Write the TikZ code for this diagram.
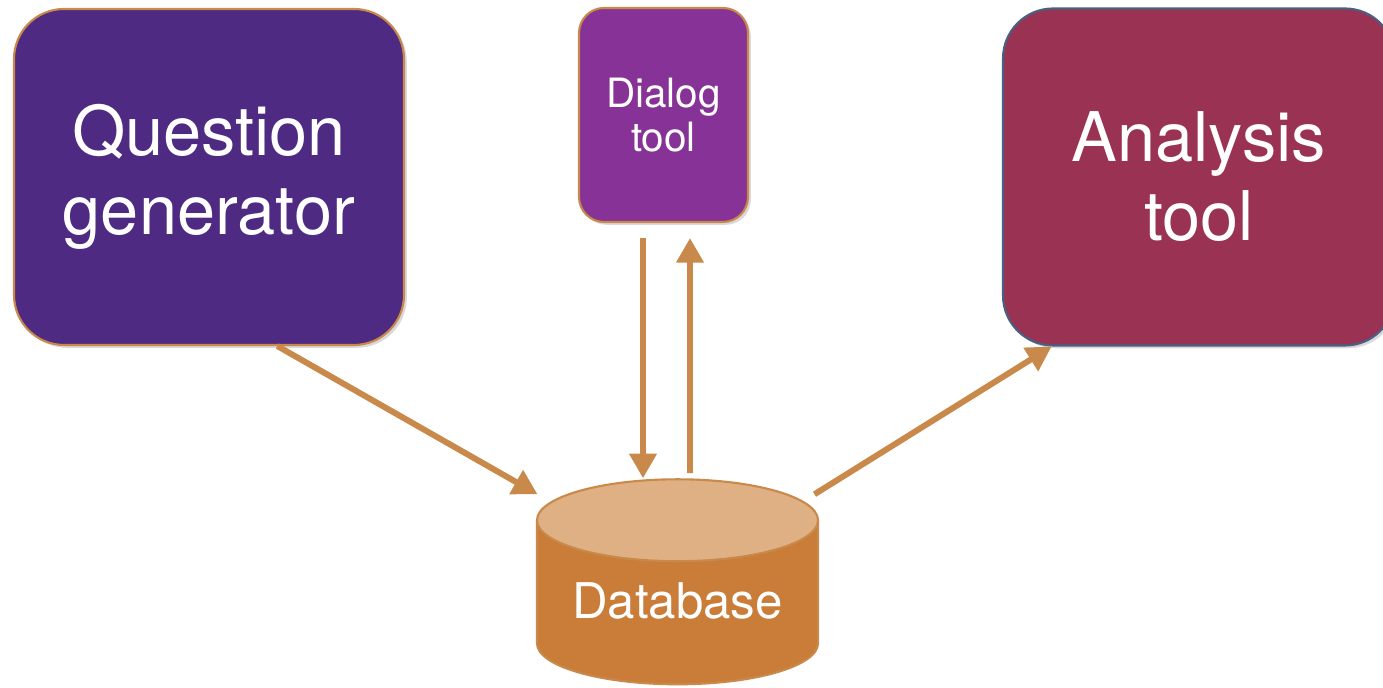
\documentclass[tikz,border=0pt]{standalone}
\usepackage{fontspec}
\setsansfont{TeX Gyre Heros}
\usetikzlibrary{shapes.geometric,arrows.meta,positioning,shadows}

\definecolor{genpurple}{RGB}{79,42,130}
\definecolor{dialogviolet}{RGB}{135,50,150}
\definecolor{analysisred}{RGB}{154,50,84}
\definecolor{edgebrown}{RGB}{200,137,74}
\definecolor{edgeblue}{RGB}{74,96,128}
\definecolor{dbbody}{RGB}{201,125,56}
\definecolor{dbtop}{RGB}{224,176,133}

\begin{document}
\begin{tikzpicture}
        % Define styles
        \tikzstyle{tool} = [rectangle, draw=edgebrown, line width=0.6pt,
            rounded corners=0.5cm, text=white, align=center, font=\sffamily,
            drop shadow={shadow xshift=0.8pt, shadow yshift=-0.8pt, opacity=0.3}]
        \tikzstyle{arrow} = [draw=edgebrown, line width=1.7pt,
            -{Triangle[length=7pt,width=7.5pt]}]

        \useasboundingbox (0,0) rectangle (13.83,6.88);

        % Nodes
        \node [tool, fill=genpurple, minimum width=3.9cm, minimum height=3.36cm,
            font=\sffamily\fontsize{19.5}{22.5}\selectfont] (gen) at (2.09,5.11)
            {Question\\generator};
        \node [tool, fill=dialogviolet, minimum width=1.69cm, minimum height=2.14cm,
            rounded corners=0.25cm, font=\sffamily\fontsize{11.5}{12.5}\selectfont]
            (dialog) at (6.635,5.73) {Dialog\\tool};
        \node [tool, fill=analysisred, draw=edgeblue, minimum width=3.92cm,
            minimum height=3.37cm, font=\sffamily\fontsize{19.5}{22.5}\selectfont]
            (analysis) at (11.99,5.11) {Analysis\\tool};
        \node [cylinder, shape border rotate=90, aspect=0.35, draw=edgebrown,
            line width=0.6pt, minimum width=2.81cm, minimum height=2.05cm,
            cylinder uses custom fill, cylinder body fill=dbbody,
            cylinder end fill=dbtop, text=white, text depth=0.2cm,
            font=\sffamily\fontsize{14}{16}\selectfont]
            (db) at (6.775,0.77) {Database};

        % Arrows
        \draw [arrow] (gen.-68.5) -- ([xshift=-1.4cm,yshift=-0.16cm]db.north);
        \draw [arrow] ([xshift=-2.05mm,yshift=-1.5mm]dialog.south) -- ([xshift=-3.45mm]db.north);
        \draw [arrow] ([xshift=1.25mm,yshift=0.5mm]db.north) -- ([xshift=2.65mm,yshift=-1.5mm]dialog.south);
        \draw [arrow] ([xshift=1.37cm,yshift=-0.16cm]db.north) -- (analysis.-131.2);

    \end{tikzpicture}
\end{document}
